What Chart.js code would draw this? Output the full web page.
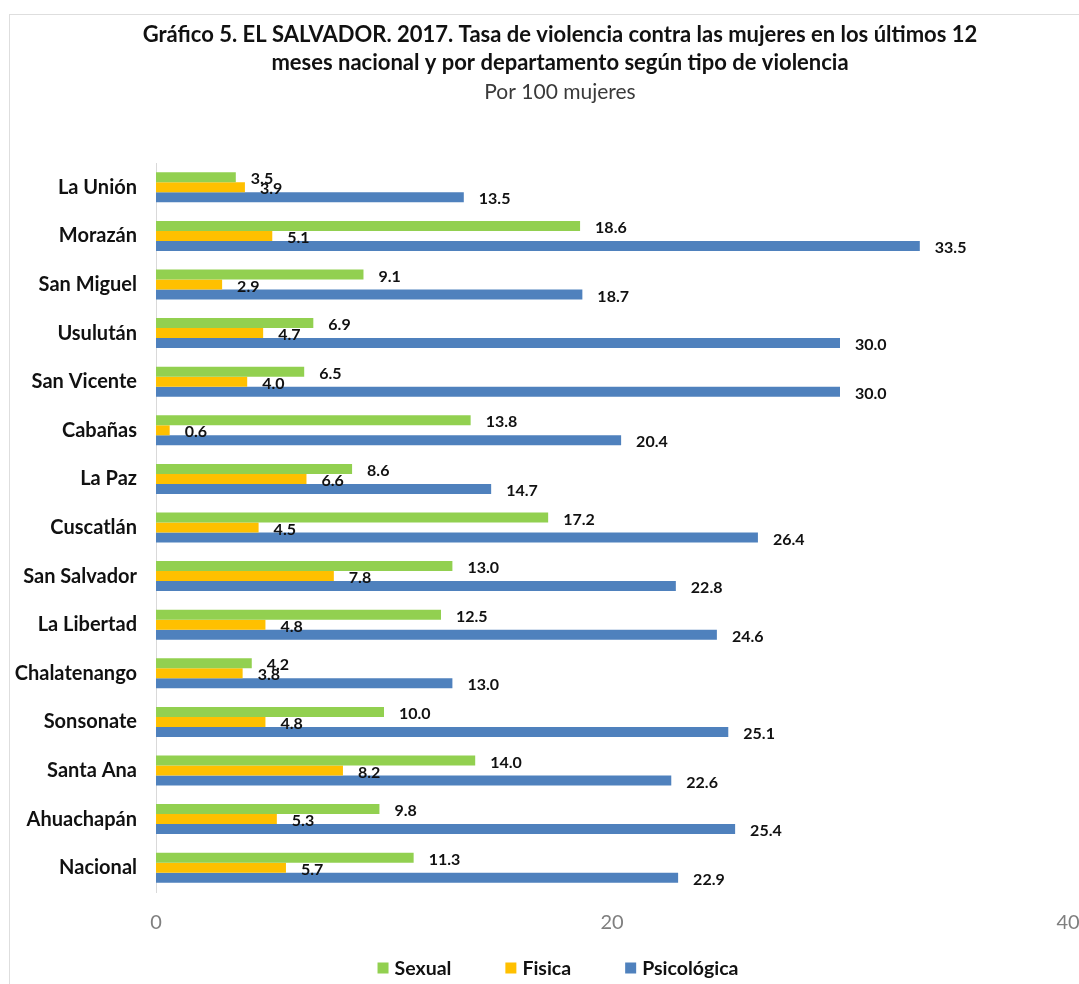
<!DOCTYPE html>
<html>
<head>
<meta charset="utf-8">
<script src="https://cdn.jsdelivr.net/npm/chart.js@4/dist/chart.umd.min.js"></script>
<style>
  html, body { margin: 0; padding: 0; background: #fff; overflow: hidden; }
  canvas { display: block; }
</style>
</head>
<body>
<canvas id="violenceChart" width="1079" height="984"></canvas>
<script>
// Departamentos (de arriba hacia abajo)
const categories = ['La Unión', 'Morazán', 'San Miguel', 'Usulután', 'San Vicente', 'Cabañas', 'La Paz',
    'Cuscatlán', 'San Salvador', 'La Libertad', 'Chalatenango', 'Sonsonate', 'Santa Ana', 'Ahuachapán', 'Nacional'];
const sexual = [3.5, 18.6, 9.1, 6.9, 6.5, 13.8, 8.6, 17.2, 13.0, 12.5, 4.2, 10.0, 14.0, 9.8, 11.3];
const fisica = [3.9, 5.1, 2.9, 4.7, 4.0, 0.6, 6.6, 4.5, 7.8, 4.8, 3.8, 4.8, 8.2, 5.3, 5.7];
const psicologica = [13.5, 33.5, 18.7, 30.0, 30.0, 20.4, 14.7, 26.4, 22.8, 24.6, 13.0, 25.1, 22.6, 25.4, 22.9];
const xTicks = [0, 20, 40];

const FONT = 'Lato, "Open Sans", sans-serif';

// white background + light frame like the Excel chart area
const framePlugin = {
    id: 'frame',
    beforeDraw(chart) {
        const ctx = chart.ctx;
        ctx.save();
        ctx.fillStyle = '#fff';
        ctx.fillRect(0, 0, chart.width, chart.height);
        ctx.strokeStyle = '#dedede';
        ctx.lineWidth = 1;
        ctx.strokeRect(9.5, 14.5, chart.width + 20, chart.height + 20);
        ctx.restore();
    }
};

// value labels at the end of each bar
const valueLabels = {
    id: 'valueLabels',
    afterDatasetsDraw(chart) {
        const ctx = chart.ctx;
        ctx.save();
        ctx.font = 'bold 16px ' + FONT;
        ctx.fillStyle = '#111';
        ctx.textAlign = 'left';
        ctx.textBaseline = 'middle';
        chart.data.datasets.forEach((ds, i) => {
            chart.getDatasetMeta(i).data.forEach((bar, j) => {
                ctx.fillText(ds.data[j].toFixed(1), bar.x + 15, bar.y + 2);
            });
        });
        ctx.restore();
    }
};

// legend row under the axis (square, bold label, wide gaps)
const bottomLegend = {
    id: 'bottomLegend',
    afterDraw(chart) {
        const ctx = chart.ctx;
        const box = 11, gap = 6, spacing = 54, y = 968;
        ctx.save();
        ctx.font = 'bold 19.5px ' + FONT;
        ctx.textBaseline = 'middle';
        ctx.textAlign = 'left';
        const items = chart.data.datasets.map(ds => ({
            text: ds.label, color: ds.backgroundColor,
            w: box + gap + ctx.measureText(ds.label).width
        }));
        const total = items.reduce((a, it) => a + it.w, 0) + spacing * (items.length - 1);
        let x = 558 - total / 2;
        items.forEach(it => {
            ctx.fillStyle = it.color;
            ctx.fillRect(x, y - box / 2, box, box);
            ctx.fillStyle = '#111';
            ctx.fillText(it.text, x + box + gap, y + 1);
            x += it.w + spacing;
        });
        ctx.restore();
    }
};

const ctx = document.getElementById('violenceChart').getContext('2d');
new Chart(ctx, {
    type: 'bar',
    data: {
        labels: categories,
        datasets: [
            { label: 'Sexual', data: sexual, backgroundColor: '#92D050' },
            { label: 'Fisica', data: fisica, backgroundColor: '#FFC000' },
            { label: 'Psicológica', data: psicologica, backgroundColor: '#4F81BD' }
        ]
    },
    options: {
        indexAxis: 'y',
        responsive: false,
        animation: false,
        devicePixelRatio: 1,
        categoryPercentage: 0.617,
        barPercentage: 1,
        layout: {
            padding: { left: 5, right: -36, top: 0, bottom: 48 }
        },
        scales: {
            x: {
                min: 0,
                max: 40,
                afterBuildTicks: s => { s.ticks = xTicks.map(v => ({ value: v })); },
                afterFit: s => { s.height = 44; s.paddingLeft = 0; s.paddingRight = 11; },
                grid: { display: false, drawTicks: false },
                border: { display: false },
                ticks: {
                    padding: 19,
                    color: '#7f7f7f',
                    font: { family: FONT, size: 20 }
                }
            },
            y: {
                afterFit: s => { s.width = 151; },
                grid: { display: false, drawTicks: false },
                border: { display: true, color: '#d9d9d9' },
                ticks: {
                    padding: 19,
                    color: '#111',
                    font: { family: FONT, size: 20, weight: 'bold' }
                }
            }
        },
        plugins: {
            title: {
                display: true,
                text: ['Gráfico 5. EL SALVADOR. 2017. Tasa de violencia contra las mujeres en los últimos 12',
                       'meses nacional y por departamento según tipo de violencia'],
                color: '#111',
                font: { family: FONT, size: 22, weight: 'bold', lineHeight: '28px' },
                padding: { top: 21, bottom: 0 }
            },
            subtitle: {
                display: true,
                text: 'Por 100 mujeres',
                color: '#3a3a3a',
                font: { family: FONT, size: 21, weight: 'normal', lineHeight: '20px' },
                padding: { top: 5, bottom: 61 }
            },
            legend: { display: false },
            tooltip: { enabled: false }
        }
    },
    plugins: [framePlugin, valueLabels, bottomLegend]
});
</script>
</body>
</html>
